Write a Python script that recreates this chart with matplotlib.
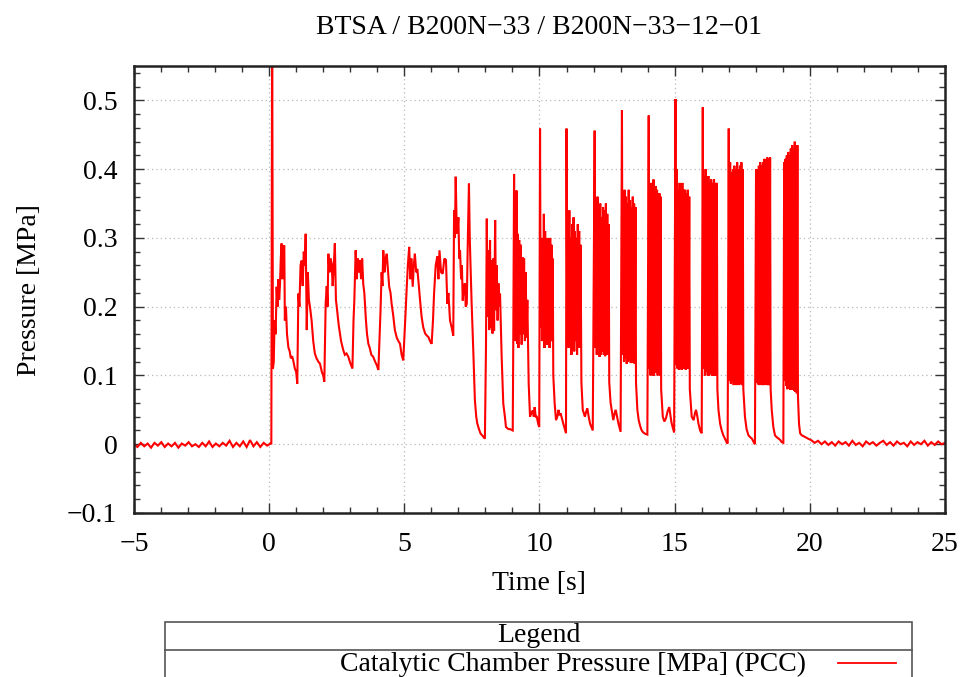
import numpy as np
import matplotlib
matplotlib.use("Agg")
import matplotlib.pyplot as plt
from matplotlib.patches import Rectangle
from matplotlib.lines import Line2D
from matplotlib.ticker import MultipleLocator

# ---------------- data ----------------
# Baseline before ignition (-5 .. 0 s), sampled noise values [MPa]
pre_p = [0.000, -0.004, 0.002, -0.003, 0.001, -0.005, 0.002, -0.002, 0.003, -0.004,
         0.001, -0.003, 0.002, -0.005, 0.001, -0.002, 0.003, -0.003, 0.000, -0.004,
         0.002, -0.003, 0.004, -0.004, 0.001, -0.003, 0.002, -0.002, 0.005, -0.004,
         0.002, -0.003, 0.004, -0.004, 0.006, -0.003, 0.003, -0.004, 0.002, -0.002, 0.001]

# Start-up and early pulsed phase (0 .. 10 s)
early_t = [0.08, 0.11, 0.14, 0.17, 0.20, 0.24, 0.276, 0.31, 0.34, 0.37, 0.40, 0.43, 0.46, 0.49,
           0.52, 0.56, 0.58, 0.62, 0.66, 0.71, 0.76, 0.80, 0.85, 0.89, 0.95, 1.00, 1.04, 1.08,
           1.12, 1.16, 1.20, 1.24, 1.28, 1.32, 1.35, 1.39, 1.43, 1.47, 1.51, 1.57, 1.63, 1.69,
           1.75, 1.82, 1.88, 1.95, 2.00, 2.04, 2.09, 2.13, 2.16, 2.19, 2.23, 2.27, 2.31, 2.35,
           2.39, 2.43, 2.47, 2.50, 2.54, 2.58, 2.66, 2.74, 2.80, 2.86, 2.93, 3.00, 3.08, 3.12,
           3.15, 3.20, 3.24, 3.28, 3.32, 3.36, 3.40, 3.44, 3.48, 3.52, 3.58, 3.62, 3.67, 3.72,
           3.78, 3.85, 3.92, 3.98, 4.04, 4.12, 4.16, 4.19, 4.22, 4.27, 4.31, 4.35, 4.40, 4.44,
           4.49, 4.53, 4.58, 4.65, 4.72, 4.78, 4.84, 4.90, 4.96, 5.02, 5.09, 5.13, 5.18, 5.22,
           5.26, 5.31, 5.35, 5.39, 5.44, 5.48, 5.52, 5.58, 5.64, 5.70, 5.77, 5.83, 5.89, 5.95,
           6.01, 6.06, 6.10, 6.16, 6.22, 6.26, 6.30, 6.36, 6.42, 6.48, 6.54, 6.59, 6.63, 6.69,
           6.75, 6.81, 6.84, 6.87, 6.90, 6.93, 6.96, 7.00, 7.03, 7.06, 7.10, 7.13, 7.16, 7.20,
           7.24, 7.27, 7.31, 7.35, 7.39, 7.42, 7.45, 7.49, 7.55, 7.61, 7.66, 7.70, 7.76, 7.82,
           7.90, 7.98,
           8.02, 8.05, 8.08, 8.11, 8.14, 8.17, 8.20, 8.23, 8.26, 8.29, 8.32, 8.36, 8.39, 8.42,
           8.45, 8.48, 8.51, 8.54, 8.60, 8.66, 8.72, 8.76, 8.85, 8.91, 9.01,
           9.03, 9.06, 9.08, 9.10, 9.12, 9.15, 9.17, 9.19, 9.22, 9.25, 9.28, 9.31, 9.34, 9.37,
           9.40, 9.43, 9.46, 9.49, 9.52, 9.55, 9.60, 9.65, 9.70, 9.75, 9.79, 9.82, 9.86, 9.90,
           9.95, 9.99]
early_p = [0.001, 0.62, 0.110, 0.120, 0.180, 0.160, 0.229, 0.200, 0.240, 0.210, 0.232, 0.270, 0.292, 0.240,
           0.285, 0.289, 0.180, 0.200, 0.160, 0.141, 0.135, 0.125, 0.128, 0.122, 0.110, 0.105, 0.088, 0.219,
           0.200, 0.260, 0.267, 0.230, 0.280, 0.260, 0.306, 0.166, 0.250, 0.210, 0.200, 0.180, 0.150, 0.132,
           0.125, 0.120, 0.117, 0.105, 0.100, 0.091, 0.205, 0.230, 0.200, 0.277, 0.250, 0.270, 0.263, 0.230,
           0.260, 0.292, 0.210, 0.200, 0.185, 0.171, 0.150, 0.137, 0.130, 0.132, 0.127, 0.118, 0.110, 0.180,
           0.209, 0.282, 0.240, 0.270, 0.250, 0.268, 0.240, 0.270, 0.233, 0.220, 0.180, 0.160, 0.146, 0.140,
           0.130, 0.127, 0.120, 0.115, 0.108, 0.195, 0.250, 0.230, 0.282, 0.250, 0.270, 0.277, 0.250, 0.229,
           0.220, 0.204, 0.190, 0.166, 0.155, 0.150, 0.146, 0.130, 0.122, 0.170, 0.229, 0.260, 0.287, 0.240,
           0.270, 0.229, 0.260, 0.277, 0.250, 0.255, 0.238, 0.210, 0.185, 0.170, 0.161, 0.158, 0.156, 0.150,
           0.146, 0.180, 0.219, 0.260, 0.273, 0.240, 0.282, 0.250, 0.248, 0.270, 0.268, 0.204, 0.220, 0.180,
           0.170, 0.158, 0.340, 0.300, 0.389, 0.330, 0.306, 0.330, 0.270, 0.282, 0.240, 0.260, 0.209, 0.230,
           0.234, 0.200, 0.204, 0.300, 0.379, 0.300, 0.258, 0.204, 0.137, 0.064, 0.040, 0.030, 0.022, 0.0155,
           0.012, 0.008,
           0.141, 0.328, 0.185, 0.282, 0.166, 0.297, 0.170, 0.267, 0.161, 0.270, 0.165, 0.326, 0.195, 0.260,
           0.180, 0.234, 0.200, 0.219, 0.127, 0.059, 0.040, 0.025, 0.022, 0.022, 0.020,
           0.151, 0.393, 0.160, 0.350, 0.150, 0.369, 0.146, 0.306, 0.140, 0.297, 0.160, 0.290, 0.145, 0.272,
           0.160, 0.270, 0.150, 0.250, 0.155, 0.210, 0.088, 0.040, 0.045, 0.049, 0.040, 0.054, 0.040, 0.040,
           0.030, 0.025]

# Dense pulses (10 .. 19.5 s): start/end, initial spike, oscillation crests and troughs
pulse_start = [10.02, 11.00, 12.04, 13.05, 14.04, 15.03, 16.04, 17.00, 18.01, 19.05]
pulse_end = [10.49, 11.52, 12.56, 13.55, 14.48, 15.54, 16.56, 17.52, 18.53, 19.54]
pulse_spike = [0.459, 0.459, 0.456, 0.486, 0.478, 0.502, 0.490, 0.459, 0.400, 0.410]
pulse_hi = [
    [0.30, 0.28, 0.335, 0.31, 0.29, 0.30, 0.28, 0.30, 0.29, 0.27],
    [0.31, 0.34, 0.30, 0.32, 0.33, 0.31, 0.30, 0.32, 0.31, 0.29],
    [0.33, 0.36, 0.34, 0.35, 0.33, 0.345, 0.34, 0.35, 0.335, 0.32],
    [0.35, 0.37, 0.36, 0.35, 0.37, 0.355, 0.345, 0.36, 0.35, 0.345],
    [0.36, 0.38, 0.37, 0.385, 0.36, 0.375, 0.37, 0.355, 0.365, 0.36],
    [0.40, 0.37, 0.38, 0.36, 0.38, 0.37, 0.37, 0.365, 0.37, 0.36],
    [0.39, 0.40, 0.385, 0.39, 0.38, 0.385, 0.38, 0.385, 0.38, 0.38],
    [0.41, 0.395, 0.40, 0.405, 0.40, 0.41, 0.40, 0.405, 0.41, 0.40],
    [0.40, 0.405, 0.41, 0.405, 0.41, 0.415, 0.41, 0.417, 0.415, 0.417],
    [0.415, 0.42, 0.425, 0.42, 0.43, 0.435, 0.43, 0.44, 0.435, 0.435],
]
pulse_lo = [
    [0.17, 0.15, 0.16, 0.14, 0.15, 0.145, 0.16, 0.14, 0.15, 0.15],
    [0.16, 0.14, 0.15, 0.13, 0.14, 0.135, 0.15, 0.13, 0.14, 0.14],
    [0.14, 0.13, 0.14, 0.127, 0.13, 0.135, 0.13, 0.128, 0.13, 0.13],
    [0.13, 0.12, 0.125, 0.117, 0.12, 0.122, 0.118, 0.12, 0.118, 0.117],
    [0.11, 0.10, 0.105, 0.10, 0.10, 0.104, 0.105, 0.10, 0.102, 0.10],
    [0.115, 0.11, 0.108, 0.11, 0.108, 0.11, 0.11, 0.108, 0.11, 0.11],
    [0.11, 0.10, 0.105, 0.10, 0.10, 0.102, 0.10, 0.10, 0.10, 0.10],
    [0.093, 0.088, 0.09, 0.086, 0.088, 0.086, 0.087, 0.086, 0.088, 0.086],
    [0.089, 0.087, 0.086, 0.087, 0.086, 0.086, 0.087, 0.086, 0.086, 0.086],
    [0.093, 0.085, 0.08, 0.082, 0.079, 0.08, 0.079, 0.078, 0.076, 0.074],
]
# Decay between dense pulses (after pulse i, before pulse i+1)
gap_t = [
    [10.51, 10.56, 10.61, 10.66, 10.70, 10.74, 10.78, 10.88, 10.98],
    [11.55, 11.60, 11.68, 11.73, 11.77, 11.82, 11.87, 11.97],
    [12.58, 12.63, 12.73, 12.78, 12.82, 12.87, 12.92, 13.00],
    [13.57, 13.62, 13.67, 13.72, 13.78, 13.84, 13.92, 13.99],
    [14.50, 14.56, 14.62, 14.68, 14.74, 14.80, 14.85, 14.89, 14.98],
    [15.56, 15.63, 15.70, 15.75, 15.79, 15.84, 15.88, 15.94, 16.00],
    [16.58, 16.62, 16.68, 16.74, 16.80, 16.86, 16.92, 16.96],
    [17.54, 17.60, 17.66, 17.73, 17.80, 17.86, 17.91, 17.97],
    [18.55, 18.59, 18.65, 18.71, 18.78, 18.85, 18.91, 18.96, 19.02],
]
gap_p = [
    [0.100, 0.060, 0.035, 0.040, 0.050, 0.042, 0.045, 0.030, 0.016],
    [0.090, 0.050, 0.040, 0.048, 0.052, 0.040, 0.030, 0.020],
    [0.090, 0.060, 0.035, 0.045, 0.050, 0.040, 0.030, 0.018],
    [0.090, 0.050, 0.035, 0.027, 0.020, 0.017, 0.015, 0.014],
    [0.080, 0.040, 0.033, 0.038, 0.048, 0.054, 0.040, 0.030, 0.017],
    [0.080, 0.040, 0.035, 0.045, 0.050, 0.040, 0.030, 0.020, 0.016],
    [0.080, 0.050, 0.030, 0.020, 0.013, 0.008, 0.003, 0.001],
    [0.080, 0.040, 0.022, 0.013, 0.010, 0.008, 0.004, 0.000],
    [0.080, 0.050, 0.025, 0.013, 0.010, 0.008, 0.006, 0.003, 0.002],
]
# Tail after the last pulse
tail_t = [19.56, 19.60, 19.64, 19.70, 19.80, 19.94]
tail_p = [0.070, 0.030, 0.016, 0.013, 0.011, 0.008]
# Baseline after shutdown (20 .. 25 s), sampled noise values
post_p = [0.006, 0.002, 0.005, 0.000, 0.004, -0.001, 0.003, -0.002, 0.004, 0.000,
          0.003, -0.002, 0.005, -0.001, 0.002, -0.003, 0.004, 0.000, 0.003, -0.002,
          0.002, 0.005, -0.001, 0.003, -0.002, 0.004, 0.000, 0.002, -0.003, 0.004,
          -0.001, 0.003, 0.000, 0.005, -0.002, 0.003, -0.001, 0.004, 0.000, 0.002]

# ---------------- assemble the trace ----------------
t_all = list(np.linspace(-5.0, 0.05, len(pre_p)))
p_all = list(pre_p)
t_all += early_t
p_all += early_p
for i in range(len(pulse_start)):
    vals = [pulse_spike[i]]
    for lo, hi in zip(pulse_lo[i], pulse_hi[i]):
        vals += [lo, hi]
    t_all += list(np.linspace(pulse_start[i], pulse_end[i], len(vals)))
    p_all += vals
    if i < len(gap_t):
        t_all += gap_t[i]
        p_all += gap_p[i]
t_all += tail_t
p_all += tail_p
t_all += list(np.linspace(20.05, 25.0, len(post_p)))
p_all += post_p

# ---------------- figure ----------------
plt.rcParams['font.family'] = ['Liberation Serif', 'DejaVu Serif']
plt.rcParams['path.simplify'] = False
FS = 20
W, H = 962, 677
fig = plt.figure(figsize=(W / 100, H / 100), dpi=100)
ax = fig.add_axes([134 / W, 1 - 513 / H, (945 - 134) / W, (513 - 66) / H])

ax.plot(t_all, p_all, color='#ff0000', lw=1.5, solid_joinstyle='miter', antialiased=True)

ax.set_xlim(-5, 25)
ax.set_ylim(-0.1, 0.55)
ax.xaxis.set_minor_locator(MultipleLocator(1))
ax.yaxis.set_minor_locator(MultipleLocator(0.02))
ax.set_yticks([-0.1, 0, 0.1, 0.2, 0.3, 0.4, 0.5])
ax.set_yticklabels(['\u22120.1', '0', '0.1', '0.2', '0.3', '0.4', '0.5'])
ax.set_xticks([-5, 0, 5, 10, 15, 20, 25])
ax.set_xticklabels(['\u22125', '0', '5', '10', '15', '20', '25'])
ax.tick_params(which='both', direction='in', top=True, right=True, color='#333333')
ax.tick_params(which='major', length=7, width=1.0, labelsize=FS, pad=12)
ax.tick_params(axis='x', which='major', pad=14)
ax.tick_params(which='minor', length=4, width=1.0)
for s in ax.spines.values():
    s.set_linewidth(1.8)
    s.set_color('#222222')
ax.grid(True, which='major', color='#b8b8b8', linestyle=(0, (1, 2.5)), linewidth=0.9)

fig.text(539 / W, 1 - 28 / H, 'BTSA / B200N\u221233 / B200N\u221233\u221212\u221201',
         ha='center', va='center', fontsize=FS)
fig.text(539 / W, 1 - 583 / H, 'Time [s]', ha='center', va='center', fontsize=FS)
fig.text(30 / W, 1 - 290 / H, 'Pressure [MPa]', ha='center', va='center',
         rotation=90, fontsize=FS)

# Legend table
x0, x1 = 165 / W, 912 / W
ytop, ymid = 1 - 622 / H, 1 - 650 / H
fig.patches.append(Rectangle((x0, -0.05), x1 - x0, ytop + 0.05, transform=fig.transFigure,
                             fill=False, edgecolor='#555555', linewidth=1.2))
fig.lines.append(Line2D([x0, x1], [ymid, ymid], transform=fig.transFigure,
                        color='#555555', linewidth=1.2))
fig.text((x0 + x1) / 2, 1 - 636 / H, 'Legend', ha='center', va='center', fontsize=FS)
fig.text(806 / W, 1 - 664 / H, 'Catalytic Chamber Pressure [MPa] (PCC)',
         ha='right', va='center', fontsize=FS)
fig.lines.append(Line2D([838 / W, 896 / W], [1 - 663 / H, 1 - 663 / H],
                        transform=fig.transFigure, color='#ff0000', linewidth=1.3))

fig.savefig('out.png', dpi=100)
